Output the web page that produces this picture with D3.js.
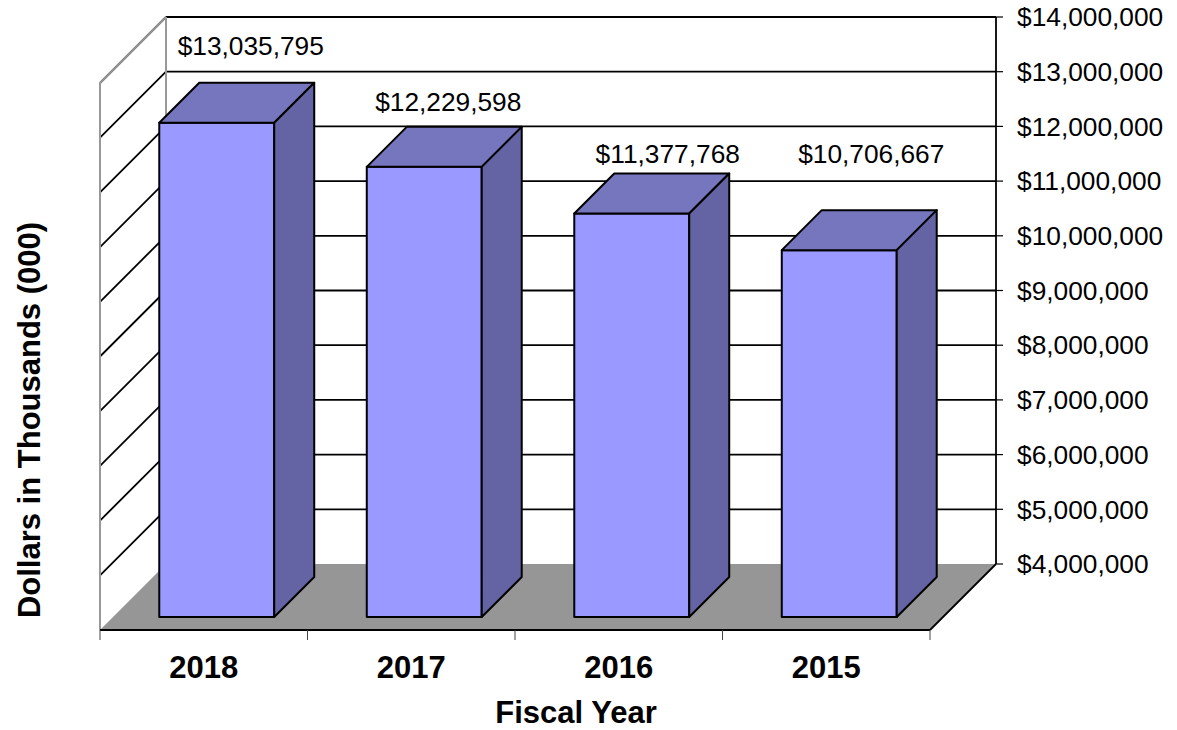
<!DOCTYPE html>
<html>
<head>
<meta charset="utf-8">
<script src="https://cdn.jsdelivr.net/npm/d3@7"></script>
<style>
  body { margin: 0; background: #fff; }
  text { font-family: "Liberation Sans", Arial, sans-serif; }
</style>
</head>
<body>
<div id="wrapper"></div>
<script>
// data
const years = ["2018", "2017", "2016", "2015"];
const amounts = [13035795, 12229598, 11377768, 10706667];
const yTicks = [4000000, 5000000, 6000000, 7000000, 8000000, 9000000,
                10000000, 11000000, 12000000, 13000000, 14000000];

// hand placement of the value labels, relative to the bar top (as in the original)
const labelNudge = [[14, -48], [4, -36], [16, -30], [12, -67]];

const dimension = { width: 1177, height: 730 };
const depth = 66;          // wall / floor depth
const barDepth = 40;
const barFront = (depth - barDepth) / 2;

const svg = d3.select("#wrapper").append("svg")
    .attr("width", dimension.width)
    .attr("height", dimension.height);

const xScaler = d3.scaleBand()
    .domain(years)
    .range([100, 930])
    .paddingInner(0.446)
    .paddingOuter(0.223);

// y on the front plane; a point at depth d is moved (+d, -d)
const yScaler = d3.scaleLinear()
    .domain([4000000, 14000000])
    .range([630, 83]);

const yMin = yScaler.domain()[0], yMax = yScaler.domain()[1];
const x0 = xScaler.range()[0], x1 = xScaler.range()[1];
const pt = (x, v, d) => [x + d, yScaler(v) - d];
const poly = (pts) => pts.map(p => p.join(",")).join(" ");

// walls
svg.append("polygon")
    .attr("points", poly([pt(x0, yMax, depth), pt(x1, yMax, depth), pt(x1, yMin, depth), pt(x0, yMin, depth)]))
    .attr("fill", "#fff");
svg.append("polygon")
    .attr("points", poly([pt(x0, yMax, 0), pt(x0, yMax, depth), pt(x0, yMin, depth), pt(x0, yMin, 0)]))
    .attr("fill", "#fff");

// floor
svg.append("polygon")
    .attr("points", poly([pt(x0, yMin, 0), pt(x1, yMin, 0), pt(x1, yMin, depth), pt(x0, yMin, depth)]))
    .attr("fill", "#969696");

// gridlines on back and side walls
const grid = svg.append("g").attr("stroke", "#000").attr("stroke-width", 1.8);
yTicks.filter(t => t > yMin).forEach(t => {
    const a = pt(x0, t, depth), b = pt(x1, t, depth), c = pt(x0, t, 0);
    grid.append("line").attr("x1", a[0]).attr("y1", a[1]).attr("x2", b[0]).attr("y2", b[1]);
    grid.append("line").attr("x1", a[0]).attr("y1", a[1]).attr("x2", c[0]).attr("y2", c[1]);
});

// wall edges
const edge = (p, q, col, w) => svg.append("line")
    .attr("x1", p[0]).attr("y1", p[1]).attr("x2", q[0]).attr("y2", q[1])
    .attr("stroke", col).attr("stroke-width", w);
edge(pt(x0, yMax, 0), pt(x0, yMin, 0), "#999", 2);
edge(pt(x0, yMax, 0), pt(x0, yMax, depth), "#999", 2);
edge(pt(x0, yMax, depth), pt(x0, yMin, depth), "#999", 2);
edge(pt(x1, yMax, depth), pt(x1, yMin, depth), "#000", 1.8);
edge(pt(x0, yMin, 0), pt(x1, yMin, 0), "#000", 2.2);
edge(pt(x1, yMin, 0), pt(x1, yMin, depth), "#000", 1.8);

// right value axis
const yAxis = svg.append("g");
yTicks.forEach(t => {
    const p = pt(x1, t, depth);
    yAxis.append("line").attr("x1", p[0]).attr("x2", p[0] + 7)
        .attr("y1", p[1]).attr("y2", p[1]).attr("stroke", "#000").attr("stroke-width", 1.2);
    yAxis.append("text")
        .attr("x", p[0] + 21).attr("y", p[1])
        .attr("dy", "0.35em")
        .attr("font-size", 26.3)
        .text("$" + d3.format(",")(t));
});

// bars
const bars = svg.append("g")
    .attr("stroke", "#000").attr("stroke-width", 2).attr("stroke-linejoin", "round");
years.forEach((yr, i) => {
    const xa = xScaler(yr), xb = xa + xScaler.bandwidth(), v = amounts[i];
    const fd = barFront, bd = barFront + barDepth;
    bars.append("polygon")
        .attr("points", poly([pt(xa, v, fd), pt(xb, v, fd), pt(xb, yMin, fd), pt(xa, yMin, fd)]))
        .attr("fill", "#9999ff");
    bars.append("polygon")
        .attr("points", poly([pt(xa, v, fd), pt(xa, v, bd), pt(xb, v, bd), pt(xb, v, fd)]))
        .attr("fill", "#7676be");
    bars.append("polygon")
        .attr("points", poly([pt(xb, v, fd), pt(xb, v, bd), pt(xb, yMin, bd), pt(xb, yMin, fd)]))
        .attr("fill", "#6464a4");
});

// value labels
years.forEach((yr, i) => {
    const top = pt(xScaler(yr) + xScaler.bandwidth() / 2, amounts[i], depth / 2);
    svg.append("text")
        .attr("x", top[0] + labelNudge[i][0])
        .attr("y", top[1] + labelNudge[i][1])
        .attr("text-anchor", "middle")
        .attr("font-size", 26.3)
        .text("$" + d3.format(",")(amounts[i]));
});

// category axis
const xAxis = svg.append("g");
const step = xScaler.step();
d3.range(years.length + 1).forEach(k => {
    const xx = x0 + k * step;
    xAxis.append("line").attr("x1", xx).attr("x2", xx)
        .attr("y1", yScaler(yMin)).attr("y2", yScaler(yMin) + 10)
        .attr("stroke", "#444").attr("stroke-width", 1);
});
years.forEach(yr => {
    xAxis.append("text")
        .attr("x", xScaler(yr) + xScaler.bandwidth() / 2)
        .attr("y", 678)
        .attr("text-anchor", "middle")
        .attr("font-size", 31).attr("font-weight", "bold")
        .text(yr);
});

// axis titles
svg.append("text")
    .attr("x", 576).attr("y", 723)
    .attr("text-anchor", "middle")
    .attr("font-size", 31).attr("font-weight", "bold")
    .text("Fiscal Year");

svg.append("text")
    .attr("transform", "translate(40,420) rotate(-90)")
    .attr("text-anchor", "middle")
    .attr("font-size", 31).attr("font-weight", "bold")
    .text("Dollars in Thousands (000)");
</script>
</body>
</html>
